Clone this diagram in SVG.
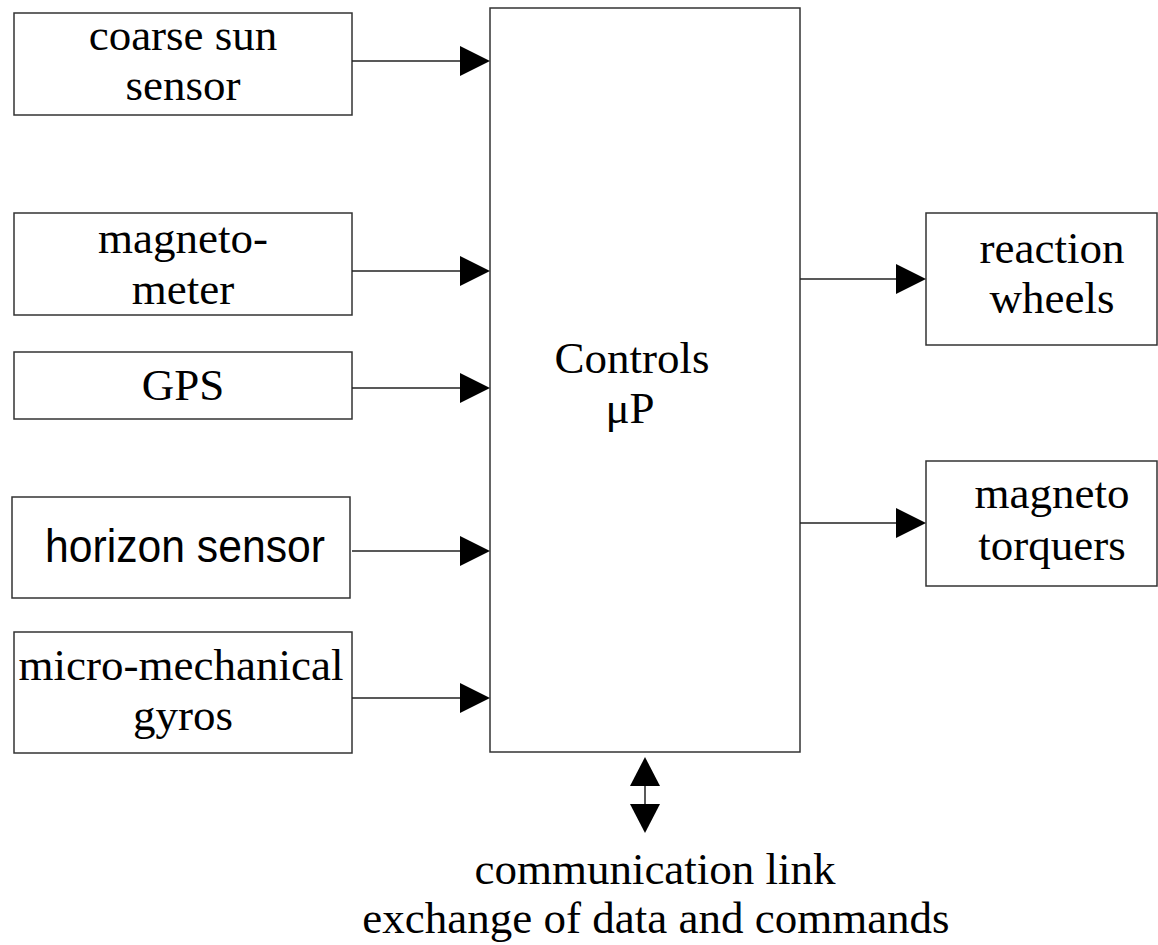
<svg xmlns="http://www.w3.org/2000/svg" width="1158" height="945" viewBox="0 0 1158 945">
<style>
.box{fill:#fff;stroke:#333;stroke-width:1.5}
.ln{stroke:#222;stroke-width:1.5;fill:none}
.ah{fill:#000}
.t{font-family:"Liberation Serif","Times New Roman",serif;font-size:45px;fill:#000;text-anchor:middle}
.s{font-family:"Liberation Sans",Arial,sans-serif;font-size:46px;fill:#000;text-anchor:middle}
</style>
<rect width="1158" height="945" fill="#fff"/>
<g id="controls">
<rect class="box" x="490" y="8" width="310" height="744"/>
<text class="t" x="632" y="373">Controls</text>
<text class="t" x="630" y="423">μP</text>
</g>
<g id="coarse-sun-sensor">
<rect class="box" x="14" y="13" width="338" height="102"/>
<text class="t" x="183" y="50">coarse sun</text>
<text class="t" x="183" y="100">sensor</text>
</g>
<g id="magnetometer">
<rect class="box" x="14" y="213" width="338" height="102"/>
<text class="t" x="183" y="253">magneto-</text>
<text class="t" x="183" y="304">meter</text>
</g>
<g id="gps">
<rect class="box" x="14" y="352" width="338" height="67"/>
<text class="t" x="183" y="400">GPS</text>
</g>
<g id="horizon-sensor">
<rect class="box" x="12" y="497" width="338" height="101"/>
<text class="s" x="185" y="562" textLength="280" lengthAdjust="spacingAndGlyphs">horizon sensor</text>
</g>
<g id="gyros">
<rect class="box" x="14" y="632" width="338" height="121"/>
<text class="t" x="181" y="680">micro-mechanical</text>
<text class="t" x="183" y="730">gyros</text>
</g>
<g id="reaction-wheels">
<rect class="box" x="926" y="213" width="231" height="132"/>
<text class="t" x="1052" y="263">reaction</text>
<text class="t" x="1052" y="313">wheels</text>
</g>
<g id="magneto-torquers">
<rect class="box" x="926" y="461" width="231" height="125"/>
<text class="t" x="1052" y="508">magneto</text>
<text class="t" x="1052" y="560">torquers</text>
</g>
<g id="comm-label">
<text class="t" x="655" y="884">communication link</text>
<text class="t" x="656" y="933">exchange of data and commands</text>
</g>
<g id="connectors">
<line class="ln" x1="352" y1="61" x2="462" y2="61"/>
<polygon class="ah" points="460,46 490,61 460,76"/>
<line class="ln" x1="352" y1="271" x2="462" y2="271"/>
<polygon class="ah" points="460,256 490,271 460,286"/>
<line class="ln" x1="352" y1="388" x2="462" y2="388"/>
<polygon class="ah" points="460,373 490,388 460,403"/>
<line class="ln" x1="352" y1="551" x2="462" y2="551"/>
<polygon class="ah" points="460,536 490,551 460,566"/>
<line class="ln" x1="352" y1="698" x2="462" y2="698"/>
<polygon class="ah" points="460,683 490,698 460,713"/>
<line class="ln" x1="800" y1="279" x2="898" y2="279"/>
<polygon class="ah" points="896,264 926,279 896,294"/>
<line class="ln" x1="800" y1="523" x2="898" y2="523"/>
<polygon class="ah" points="896,508 926,523 896,538"/>
<line class="ln" x1="645" y1="784" x2="645" y2="806"/>
<polygon class="ah" points="645,757 660,786 630,786"/>
<polygon class="ah" points="630,804 660,804 645,833"/>
</g>
</svg>
